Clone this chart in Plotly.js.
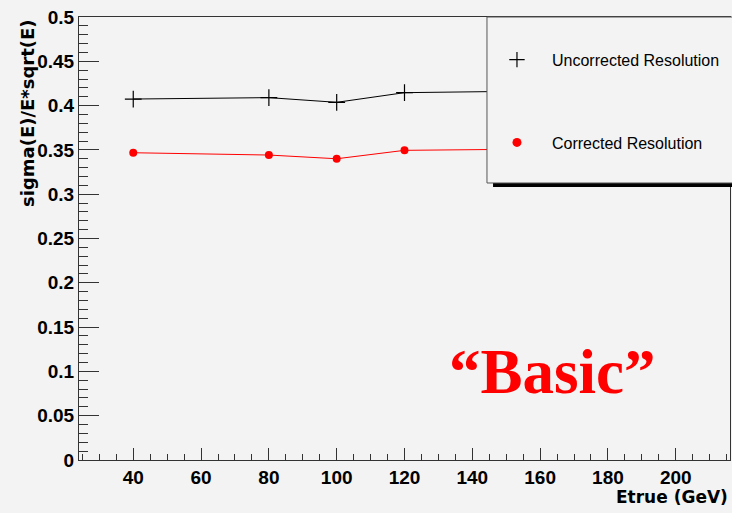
<!DOCTYPE html>
<html>
<head>
<meta charset="utf-8">
<script src="https://cdn.plot.ly/plotly-3.0.1.min.js"></script>
<style>html,body{margin:0;padding:0;background:#f3f3f3;}#chart{width:732px;height:513px;}</style>
</head>
<body>
<div id="chart"></div>
<script>
// Data
var energies = [40, 80, 100, 120, 150];
var uncorrected = [0.4074, 0.409, 0.4037, 0.4146, 0.416];
var corrected = [0.3468, 0.3442, 0.340, 0.3495, 0.3506];
var seriesNames = ['Uncorrected Resolution', 'Corrected Resolution'];
var xTitle = 'Etrue (GeV)';
var yTitle = 'sigma(E)/E*sqrt(E)';
var label = '\u201cBasic\u201d';

var axisCol = '#333333';
var tickFont = {family: 'Liberation Sans, Arial, sans-serif', size: 19, color: '#000', weight: 'bold'};

var traces = [
  {x: energies, y: uncorrected, mode: 'lines+markers', showlegend: false,
   line: {color: '#000', width: 1},
   marker: {symbol: 'cross-thin-open', size: 12, line: {color: '#000', width: 1.2}, color: '#000'}},
  {x: energies, y: corrected, mode: 'lines+markers', showlegend: false,
   line: {color: '#ff0000', width: 1},
   marker: {symbol: 'circle', size: 8, color: '#ff0000'}},
  {x: [null], y: [null], mode: 'markers', name: seriesNames[0], legendgroup: 'a',
   marker: {symbol: 'cross-thin-open', size: 11, line: {color: '#000', width: 1.2}, color: '#000'}},
  {x: [null], y: [null], mode: 'markers', name: seriesNames[1], legendgroup: 'b',
   marker: {symbol: 'circle', size: 9, color: '#ff0000'}}
];

var layout = {
  width: 732, height: 513,
  margin: {l: 79, r: 2, t: 17, b: 53},
  paper_bgcolor: '#f3f3f3', plot_bgcolor: '#f3f3f3',
  showlegend: true,
  legend: {x: 0.619, xanchor: 'left', y: 0.942, yanchor: 'top', bgcolor: 'rgba(0,0,0,0)',
           borderwidth: 0, itemwidth: 60, tracegroupgap: 59, traceorder: 'grouped',
           font: {family: 'Liberation Sans, Arial, sans-serif', size: 16, color: '#000'}},
  xaxis: {range: [24, 216], tick0: 0, dtick: 20, ticks: 'inside', ticklen: 12, tickcolor: axisCol,
          showline: true, linecolor: axisCol, linewidth: 1, mirror: true, showgrid: false, zeroline: false,
          tickfont: tickFont,
          minor: {dtick: 5, tick0: 0, ticks: 'inside', ticklen: 6, tickcolor: axisCol, showgrid: false}},
  yaxis: {range: [0, 0.5], tick0: 0, dtick: 0.05, ticks: 'inside', ticklen: 20, tickcolor: axisCol,
          showline: true, linecolor: axisCol, linewidth: 1, mirror: true, showgrid: false, zeroline: false,
          tickfont: tickFont, tickformat: '~g',
          minor: {dtick: 0.01, tick0: 0, ticks: 'inside', ticklen: 9, tickcolor: axisCol, showgrid: false}},
  shapes: [
    {type: 'rect', xref: 'paper', yref: 'paper', x0: 0.636, x1: 1.02, y0: 0.6163, y1: 0.6253,
     fillcolor: '#000', line: {width: 0}, layer: 'above'},
    {type: 'rect', xref: 'paper', yref: 'paper', x0: 0.6267, x1: 1.02, y0: 0.6253, y1: 1.0,
     fillcolor: '#f3f3f3', line: {color: '#555', width: 1}, layer: 'above'}
  ],
  annotations: [
    {text: yTitle, xref: 'paper', yref: 'paper', x: 0, y: 1, xanchor: 'center', yanchor: 'top',
     xshift: -52, textangle: -90, showarrow: false,
     font: {family: 'DejaVu Sans, sans-serif', size: 18, color: '#000', weight: 'bold'}},
    {text: xTitle, xref: 'paper', yref: 'paper', x: 1, y: 0, xanchor: 'right', yanchor: 'middle',
     xshift: 0, yshift: -37, showarrow: false,
     font: {family: 'DejaVu Sans, sans-serif', size: 17, color: '#000', weight: 'bold'}},
    {text: label, xref: 'paper', yref: 'paper', x: 0.7266, y: 0.198, xanchor: 'center', yanchor: 'middle',
     showarrow: false,
     font: {family: 'Liberation Serif, Times New Roman, serif', size: 63, color: '#ff0000', weight: 'bold'}}
  ]
};

Plotly.newPlot('chart', traces, layout, {displayModeBar: false, staticPlot: true});
</script>
</body>
</html>
